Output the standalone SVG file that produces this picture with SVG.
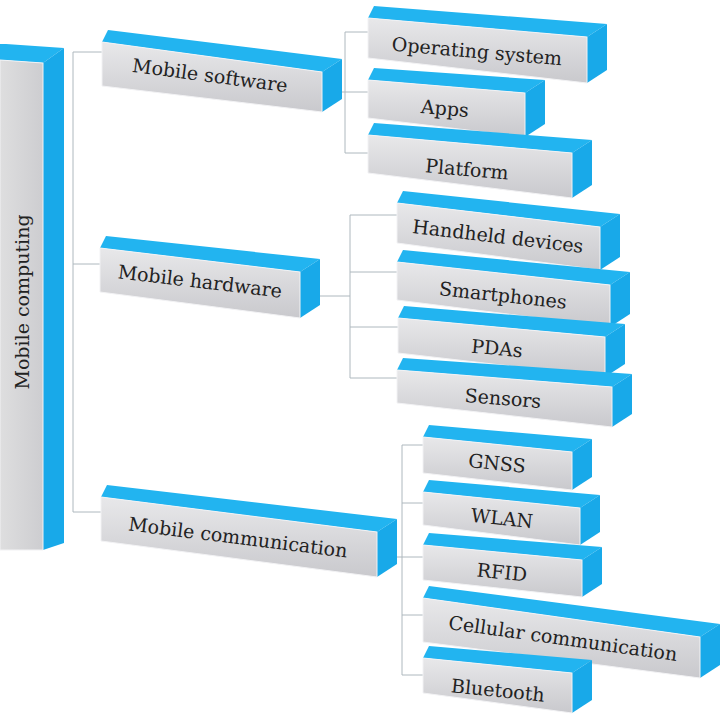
<svg xmlns="http://www.w3.org/2000/svg" width="720" height="720" viewBox="0 0 720 720">
<defs>
<linearGradient id="gf" x1="0" y1="0" x2="0" y2="1">
<stop offset="0" stop-color="#E8E8EA"/>
<stop offset="1" stop-color="#C9C9CD"/>
</linearGradient>
<linearGradient id="gm" x1="0" y1="0" x2="1" y2="0">
<stop offset="0" stop-color="#DEDEDF"/>
<stop offset="1" stop-color="#CDCDD0"/>
</linearGradient>
<style>
.front{fill:url(#gf);stroke:#F2F2F4;stroke-width:1}
.top{fill:#22B4F0}
.side{fill:#18A9E9}
text{font-family:'DejaVu Serif','Liberation Serif',serif;font-size:19px;fill:#222222;text-anchor:middle;dominant-baseline:central}
.con{stroke:#AEB8BE;stroke-width:1;fill:none}
</style>
</defs>
<rect width="720" height="720" fill="#FFFFFF"/>

<g id="connectors">
<path class="con" d="M73,52 V512 M73,52 H102 M73,264 H100 M73,512 H101"/>
<path class="con" d="M345,32 V153 M345,32 H368 M342,92 H368 M345,153 H368"/>
<path class="con" d="M350,215 V378 M350,215 H397 M350,272 H397 M350,327 H398 M350,378 H397 M320,296 H350"/>
<path class="con" d="M402,445 V675 M402,445 H423 M402,503 H423 M397,557 H423 M402,615 H423 M402,675 H423"/>
</g>

<g id="mobile-computing">
<polygon class="top" points="0,60 43,63 64,48 6,44 0,44"/>
<polygon class="side" points="43,63 64,48 64,543 43,550"/>
<polygon points="0,60 43,63 43,550 0,550" fill="url(#gm)" stroke="#F2F2F4"/>
<text transform="translate(22,302) rotate(-90)">Mobile computing</text>
</g>

<g id="mobile-software">
<polygon class="top" points="102,42 322,72 342,59 108,30"/>
<polygon class="side" points="322,72 342,59 342,99 322,112"/>
<polygon class="front" points="102,42 322,72 322,112 102,86"/>
<text transform="translate(210,75) rotate(7.5)">Mobile software</text>
</g>

<g id="mobile-hardware">
<polygon class="top" points="100,248 300,272 320,259 106,236"/>
<polygon class="side" points="300,272 320,259 320,305 300,318"/>
<polygon class="front" points="100,248 300,272 300,318 100,292"/>
<text transform="translate(200,281) rotate(6.8)">Mobile hardware</text>
</g>

<g id="mobile-communication">
<polygon class="top" points="101,497 377,532 397,519 107,485"/>
<polygon class="side" points="377,532 397,519 397,564 377,577"/>
<polygon class="front" points="101,497 377,532 377,577 101,541"/>
<text transform="translate(238,537) rotate(7.1)">Mobile communication</text>
</g>

<g id="operating-system">
<polygon class="top" points="368,18 587,37 607,24 374,6"/>
<polygon class="side" points="587,37 607,24 607,70 587,83"/>
<polygon class="front" points="368,18 587,37 587,83 368,58"/>
<text transform="translate(477,51) rotate(5)">Operating system</text>
</g>

<g id="apps">
<polygon class="top" points="368,80 525,93 545,80 374,68"/>
<polygon class="side" points="525,93 545,80 545,124 525,137"/>
<polygon class="front" points="368,80 525,93 525,137 368,118"/>
<text transform="translate(445,108) rotate(4.7)">Apps</text>
</g>

<g id="platform">
<polygon class="top" points="368,135 572,153 592,140 374,123"/>
<polygon class="side" points="572,153 592,140 592,185 572,198"/>
<polygon class="front" points="368,135 572,153 572,198 368,173"/>
<text transform="translate(467,169) rotate(5)">Platform</text>
</g>

<g id="handheld-devices">
<polygon class="top" points="397,203 600,227 620,214 403,191"/>
<polygon class="side" points="600,227 620,214 620,257 600,270"/>
<polygon class="front" points="397,203 600,227 600,270 397,243"/>
<text transform="translate(498,236) rotate(6.7)">Handheld devices</text>
</g>

<g id="smartphones">
<polygon class="top" points="397,262 610,285 630,272 403,250"/>
<polygon class="side" points="610,285 630,272 630,314 610,327"/>
<polygon class="front" points="397,262 610,285 610,327 397,300"/>
<text transform="translate(503,295) rotate(6.2)">Smartphones</text>
</g>

<g id="pdas">
<polygon class="top" points="398,318 605,337 625,324 404,306"/>
<polygon class="side" points="605,337 625,324 625,364 605,377"/>
<polygon class="front" points="398,318 605,337 605,377 398,353"/>
<text transform="translate(497,348) rotate(5.2)">PDAs</text>
</g>

<g id="sensors">
<polygon class="top" points="397,370 612,387 632,374 403,358"/>
<polygon class="side" points="612,387 632,374 632,414 612,427"/>
<polygon class="front" points="397,370 612,387 612,427 397,403"/>
<text transform="translate(503,398) rotate(4.5)">Sensors</text>
</g>

<g id="gnss">
<polygon class="top" points="423,437 572,452 592,439 429,425"/>
<polygon class="side" points="572,452 592,439 592,477 572,490"/>
<polygon class="front" points="423,437 572,452 572,490 423,473"/>
<text transform="translate(497,463) rotate(5.8)">GNSS</text>
</g>

<g id="wlan">
<polygon class="top" points="423,492 580,508 600,495 429,480"/>
<polygon class="side" points="580,508 600,495 600,532 580,545"/>
<polygon class="front" points="423,492 580,508 580,545 423,525"/>
<text transform="translate(502,518) rotate(5.8)">WLAN</text>
</g>

<g id="rfid">
<polygon class="top" points="423,545 582,560 602,547 429,533"/>
<polygon class="side" points="582,560 602,547 602,584 582,597"/>
<polygon class="front" points="423,545 582,560 582,597 423,580"/>
<text transform="translate(502,572) rotate(5.4)">RFID</text>
</g>

<g id="cellular-communication">
<polygon class="top" points="423,598 700,637 720,624 429,586"/>
<polygon class="side" points="700,637 720,624 720,665 700,678"/>
<polygon class="front" points="423,598 700,637 700,678 423,642"/>
<text transform="translate(563,638) rotate(8)">Cellular communication</text>
</g>

<g id="bluetooth">
<polygon class="top" points="423,658 572,673 592,660 429,646"/>
<polygon class="side" points="572,673 592,660 592,700 572,713"/>
<polygon class="front" points="423,658 572,673 572,713 423,693"/>
<text transform="translate(498,690) rotate(5.7)">Bluetooth</text>
</g>
</svg>
